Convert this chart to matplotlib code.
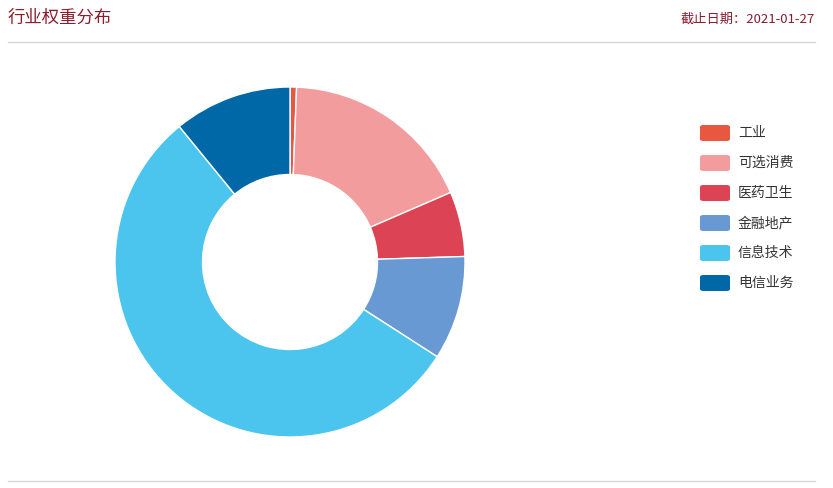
import matplotlib.pyplot as plt
from matplotlib.patches import FancyBboxPatch
from matplotlib.lines import Line2D

plt.rcParams['font.family'] = ['Noto Sans CJK SC', 'DejaVu Sans']

sectors = ['工业', '可选消费', '医药卫生', '金融地产', '信息技术', '电信业务']
weights = [0.6, 17.9, 6.0, 9.6, 55.0, 10.9]
colors = ['#e8573f', '#f29c9d', '#dc4455', '#6899d3', '#4bc5ee', '#0068a7']

W, H = 833, 488
fig = plt.figure(figsize=(W / 100, H / 100), dpi=100)

# header
fig.text(8 / W, 1 - 18 / H, '行业权重分布', fontsize=12.5, color='#8b1c2c', va='center')
fig.text(815 / W, 1 - 19 / H, '截止日期：2021-01-27', fontsize=9.5, color='#8b1c2c',
         va='center', ha='right')
fig.add_artist(Line2D([8 / W, 815 / W], [1 - 42 / H] * 2, color='#d8d8d8', lw=1))
fig.add_artist(Line2D([8 / W, 815 / W], [1 - 481 / H] * 2, color='#d8d8d8', lw=1))

# donut
cx, cy, r = 290, 262, 175
ax = fig.add_axes([(cx - r) / W, (H - cy - r) / H, 2 * r / W, 2 * r / H])
ax.pie(weights, colors=colors, startangle=90, counterclock=False, radius=1,
       wedgeprops=dict(width=0.5, edgecolor='white', linewidth=1))
ax.set_aspect('equal')
ax.set_xlim(-1, 1)
ax.set_ylim(-1, 1)
ax.axis('off')

# legend
for i, (name, c) in enumerate(zip(sectors, colors)):
    y = 133 + 30 * i
    fig.add_artist(FancyBboxPatch((700 / W, 1 - (y + 8) / H), 30 / W, 16 / H,
                                  boxstyle='round,pad=0,rounding_size=0.004',
                                  transform=fig.transFigure, facecolor=c, edgecolor='none'))
    fig.text(738 / W, 1 - y / H, name, fontsize=10, color='#333333', va='center')

fig.savefig('out.png', dpi=100)
